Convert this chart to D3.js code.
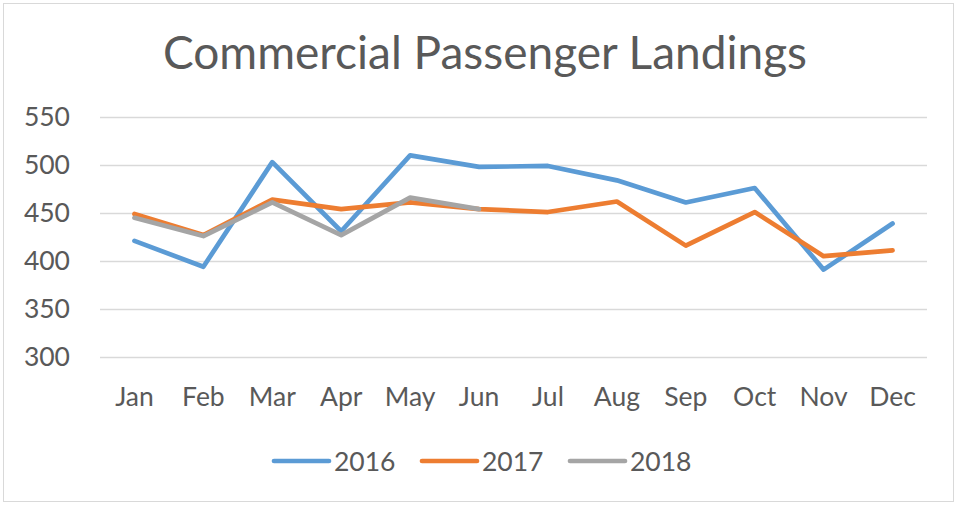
<!DOCTYPE html>
<html><head><meta charset="utf-8">
<script src="https://cdn.jsdelivr.net/npm/d3@7"></script>
<style>body{margin:0;background:#fff}svg{display:block}</style>
</head><body>
<svg id="c" width="957" height="505"></svg>
<script>
const months = ["Jan","Feb","Mar","Apr","May","Jun","Jul","Aug","Sep","Oct","Nov","Dec"];
const series2016 = [421,394,503,431,510,498,499,484,461,476,391,439];
const series2017 = [449,427,464,454,461,454,451,462,416,451,405,411];
const series2018 = [445,426,461,427,466,454,null,null,null,null,null,null];
const seriesNames = ["2016","2017","2018"];
const seriesColors = ["#5B9BD5","#ED7D31","#A5A5A5"];
const yTicks = [300,350,400,450,500,550];
const title = "Commercial Passenger Landings";

const font = "Lato, 'Open Sans', sans-serif";
const svg = d3.select("#c");
svg.append("rect").attr("x",3.5).attr("y",3.5).attr("width",950).attr("height",498)
  .attr("fill","#fff").attr("stroke","#D9D9D9").attr("stroke-width",1);

const x = d3.scaleBand().domain(months).range([100,927]);
const y = d3.scaleLinear().domain([300,550]).range([357,117]);

svg.append("text").attr("x",485).attr("y",69).attr("text-anchor","middle")
  .attr("font-family",font).attr("font-size",46).attr("fill","#595959").text(title);

const yAxis = svg.append("g").attr("transform","translate(100,0)")
  .call(d3.axisLeft(y).tickValues(yTicks).tickSize(-827).tickPadding(30));
yAxis.select(".domain").remove();
yAxis.selectAll("line").attr("stroke","#D9D9D9").attr("stroke-width",1.3);
yAxis.selectAll("text").attr("font-family",font).attr("font-size",26.5).attr("fill","#595959");

const xAxis = svg.append("g").attr("transform","translate(0,357)")
  .call(d3.axisBottom(x).tickSize(0).tickPadding(30));
xAxis.select(".domain").remove();
xAxis.selectAll("text").attr("font-family",font).attr("font-size",26.5).attr("fill","#595959");

const all = [series2016, series2017, series2018];
const line = d3.line().defined(d=>d!=null)
  .x((d,i)=>x(months[i])+x.bandwidth()/2).y(d=>y(d));
all.forEach((s,k)=>{
  svg.append("path").datum(s).attr("d",line).attr("fill","none")
    .attr("stroke",seriesColors[k]).attr("stroke-width",4.7)
    .attr("stroke-linejoin","round").attr("stroke-linecap","round");
});

const legX = [274,422,570];
seriesNames.forEach((n,k)=>{
  svg.append("line").attr("x1",legX[k]).attr("x2",legX[k]+55).attr("y1",461).attr("y2",461)
    .attr("stroke",seriesColors[k]).attr("stroke-width",4.7).attr("stroke-linecap","round");
  svg.append("text").attr("x",legX[k]+60).attr("y",470.5).attr("font-family",font)
    .attr("font-size",26.5).attr("fill","#595959").text(n);
});
</script></body></html>
